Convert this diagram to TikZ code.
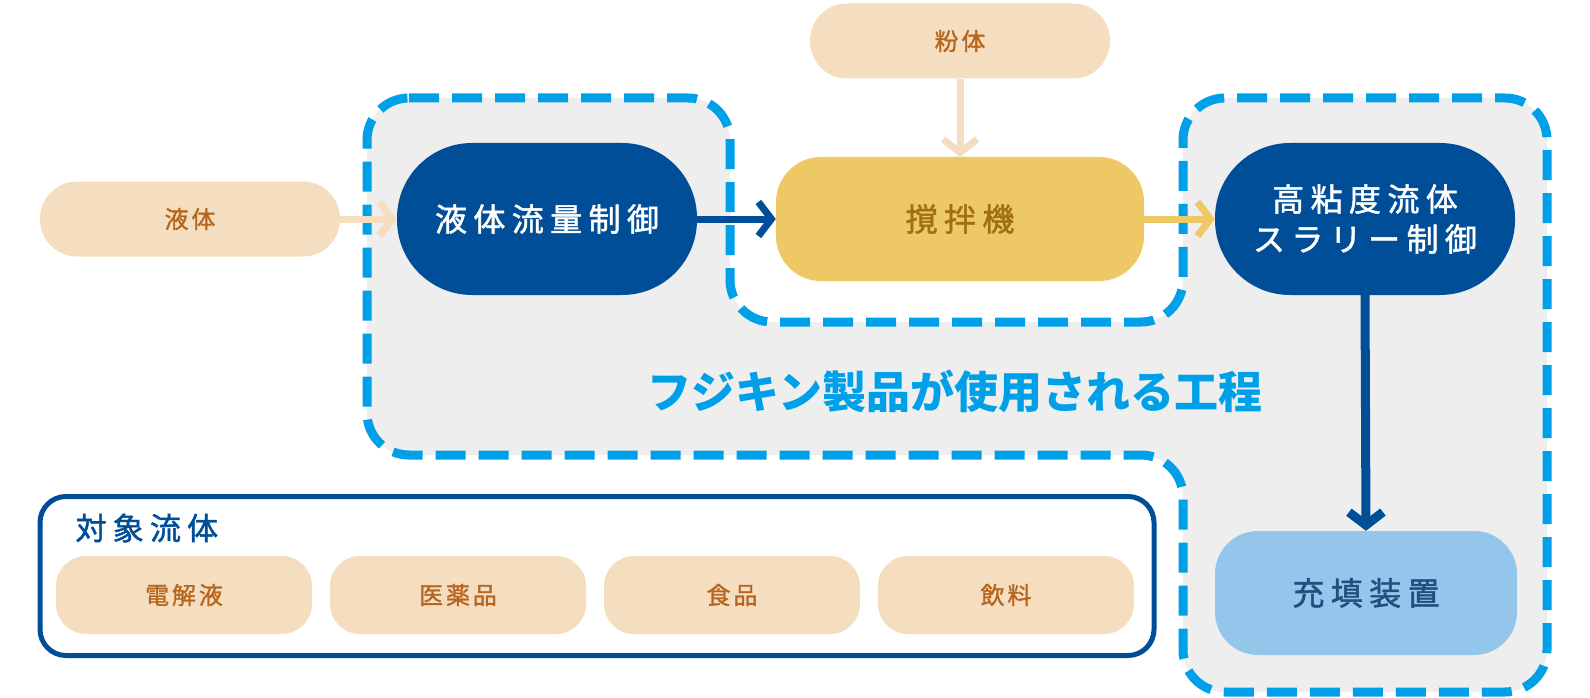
\documentclass[tikz,border=0pt]{standalone}
\usepackage{fontspec}
\setmainfont{Noto Sans CJK JP}
\newfontfamily\jp[LetterSpace=12,FakeBold=1.2]{Noto Sans CJK JP}
\newfontfamily\jpw[LetterSpace=20,FakeBold=1.5]{Noto Sans CJK JP}
\usetikzlibrary{arrows.meta}
\definecolor{peach}{HTML}{F5DEBF}
\definecolor{peachtxt}{HTML}{B5651D}
\definecolor{navy}{HTML}{004E98}
\definecolor{mustard}{HTML}{EDC864}
\definecolor{mustardtxt}{HTML}{A06E14}
\definecolor{sky}{HTML}{94C5EB}
\definecolor{skytxt}{HTML}{1E5080}
\definecolor{cyanline}{HTML}{00A0E9}
\definecolor{zonegray}{HTML}{EEEEEE}
\newcommand{\myarrow}{-{Straight Barb[length=13pt,width=34pt]}}

\tikzset{
  src/.style={fill=peach,text=peachtxt,rounded corners=37pt,minimum width=300pt,minimum height=75pt,
    font=\jp\fontsize{24}{30}\selectfont},
  ctl/.style={fill=navy,text=white,rounded corners=75pt,minimum width=300pt,minimum height=152pt,
    align=center,font=\jpw\fontsize{32}{40}\selectfont},
  item/.style={fill=peach,text=peachtxt,rounded corners=30pt,minimum width=256pt,minimum height=78pt,
    font=\jp\fontsize{24}{30}\selectfont}
}

\begin{document}
\begin{tikzpicture}[x=1pt,y=-1pt]
    \useasboundingbox (0,0) rectangle (1590,698);
    % area of the process
    \path[fill=zonegray,draw=cyanline,line width=9pt,dash pattern=on 30pt off 13pt,rounded corners=42pt]
      (367,98) -- (730,98) -- (730,322) -- (1183,322) -- (1183,98) -- (1547,98) -- (1547,692)
      -- (1183,692) -- (1183,455) -- (367,455) -- cycle;
    \node[font=\bfseries\fontsize{44}{50}\selectfont,text=cyanline] (zt) at (955,391) {フジキン製品が使用される工程};
    \node[src] (lq) at (190,219) {液体};
    \node[ctl] (fc) at (547,219) {液体流量制御};
    \node[src] (pw) at (960,41) {粉体};
    \node[fill=mustard,text=mustardtxt,rounded corners=45pt,minimum width=368pt,minimum height=124pt,
      font=\jpw\fontsize{32}{40}\selectfont] (mx) at (960,219) {撹拌機};
    \node[ctl] (sc) at (1365,219) {高粘度流体\\スラリー制御};
    \node[fill=sky,text=skytxt,rounded corners=43pt,minimum width=302pt,minimum height=124pt,
      font=\jpw\fontsize{32}{40}\selectfont] (fl) at (1366,593) {充填装置};
    \draw[line width=7pt,peach,\myarrow] (lq.east) -- (fc.west);
    \draw[line width=7pt,navy,\myarrow] (fc.east) -- (mx.west);
    \draw[line width=7pt,peach,\myarrow] (pw.south) -- (mx.north);
    \draw[line width=7pt,mustard,\myarrow] (mx.east) -- (sc.west);
    \draw[line width=9pt,navy,\myarrow] (sc.south) -- (fl.north);
    % fluids
    \node[draw=navy,line width=5pt,rounded corners=26pt,minimum width=1114pt,minimum height=159pt] (tg) at (597,576) {};
    \node[anchor=west,text=navy,font=\jpw\fontsize{31}{36}\selectfont] (tt) at (72,528) {対象流体};
    \foreach \x/\t [count=\i] in {184/電解液,458/医薬品,732/食品,1006/飲料}
      \node[item] (it\i) at (\x,595) {\t};
\end{tikzpicture}
\end{document}
